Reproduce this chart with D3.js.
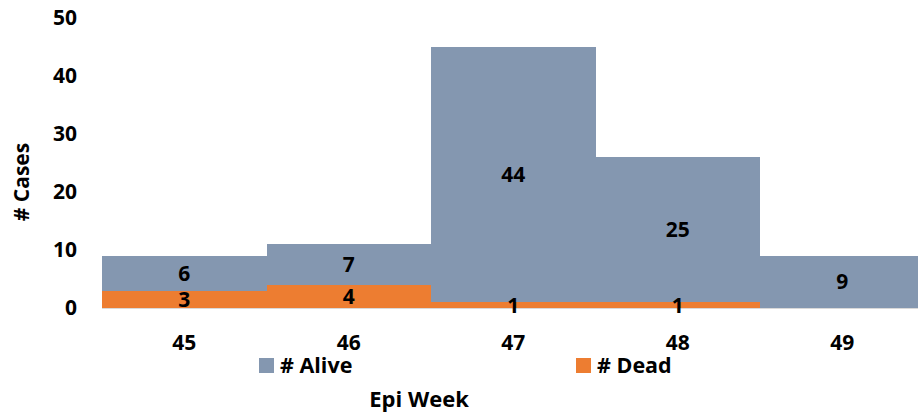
<!DOCTYPE html>
<html><head><meta charset="utf-8">
<script src="https://cdn.jsdelivr.net/npm/d3@7"></script>
<style>body{margin:0;background:#fff}svg{display:block;font-family:"Open Sans",Lato,sans-serif;font-weight:bold}</style>
</head><body>
<script>
const weeks = ["45","46","47","48","49"];
const alive = [6,7,44,25,9];
const dead = [3,4,1,1,0];
const yTicks = [0,10,20,30,40,50];
const seriesNames = ["# Alive","# Dead"];
const colors = {"# Alive":"#8497B0","# Dead":"#ED7D31"};

const W=918,H=416;
const FF="'Open Sans',Lato,sans-serif";
const svg=d3.select("body").append("svg").attr("width",W).attr("height",H);
const x=d3.scaleBand().domain(weeks).range([102,924.5]).padding(0);
const y=d3.scaleLinear().domain([0,50]).range([308,18]);

const rows=weeks.map((w,i)=>({week:w,"# Dead":dead[i],"# Alive":alive[i]}));
const stack=d3.stack().keys(["# Dead","# Alive"])(rows);

const g=svg.append("g").attr("shape-rendering","crispEdges");
stack.forEach(s=>{
  g.selectAll(null).data(s).enter().append("rect")
   .attr("x",d=>Math.round(x(d.data.week))).attr("width",d=>Math.round(x(d.data.week)+x.bandwidth())-Math.round(x(d.data.week)))
   .attr("y",d=>Math.round(y(d[1]))).attr("height",d=>Math.round(y(d[0]))-Math.round(y(d[1])))
   .attr("fill",colors[s.key]);
});
// baseline
svg.append("line").attr("x1",102).attr("x2",W).attr("y1",y(0)+0.5).attr("y2",y(0)+0.5)
  .attr("stroke","#d9d9d9").attr("stroke-width",1);

// value labels
const lg=svg.append("g");
stack.forEach(s=>{
  lg.selectAll(null).data(s.filter(d=>d[1]-d[0]>0)).enter().append("text")
   .attr("x",d=>x(d.data.week)+x.bandwidth()/2)
   .attr("y",d=>(y(d[0])+y(d[1]))/2)
   .attr("dy","0.36em").attr("text-anchor","middle")
   .attr("font-size",21).attr("fill","#000")
   .text(d=>d[1]-d[0]);
});

// y axis
const ya=svg.append("g").attr("transform","translate(77,0)")
  .call(d3.axisLeft(y).tickValues(yTicks).tickSize(0).tickPadding(0));
ya.attr("font-family",FF).attr("font-size",21).attr("font-weight","bold");
ya.select(".domain").remove();
ya.selectAll("text").attr("font-size",21).attr("fill","#000");

// x axis
const xa=svg.append("g").attr("transform","translate(0,335)")
  .call(d3.axisBottom(x).tickSize(0).tickPadding(0));
xa.attr("font-family",FF).attr("font-size",21).attr("font-weight","bold");
xa.select(".domain").remove();
xa.selectAll("text").attr("font-size",21).attr("fill","#000").attr("dy","0.71em");

// axis titles
svg.append("text").attr("transform","translate(29,182) rotate(-90)")
  .attr("text-anchor","middle").attr("font-size",21).text("# Cases");
svg.append("text").attr("x",419).attr("y",407).attr("text-anchor","middle")
  .attr("font-size",22).text("Epi Week");

// legend
const legX=[259,576];
seriesNames.forEach((n,i)=>{
  svg.append("rect").attr("x",legX[i]).attr("y",358).attr("width",15).attr("height",15).attr("fill",colors[n]);
  svg.append("text").attr("x",legX[i]+21).attr("y",373).attr("font-size",21.5).text(n);
});
</script>
</body></html>
